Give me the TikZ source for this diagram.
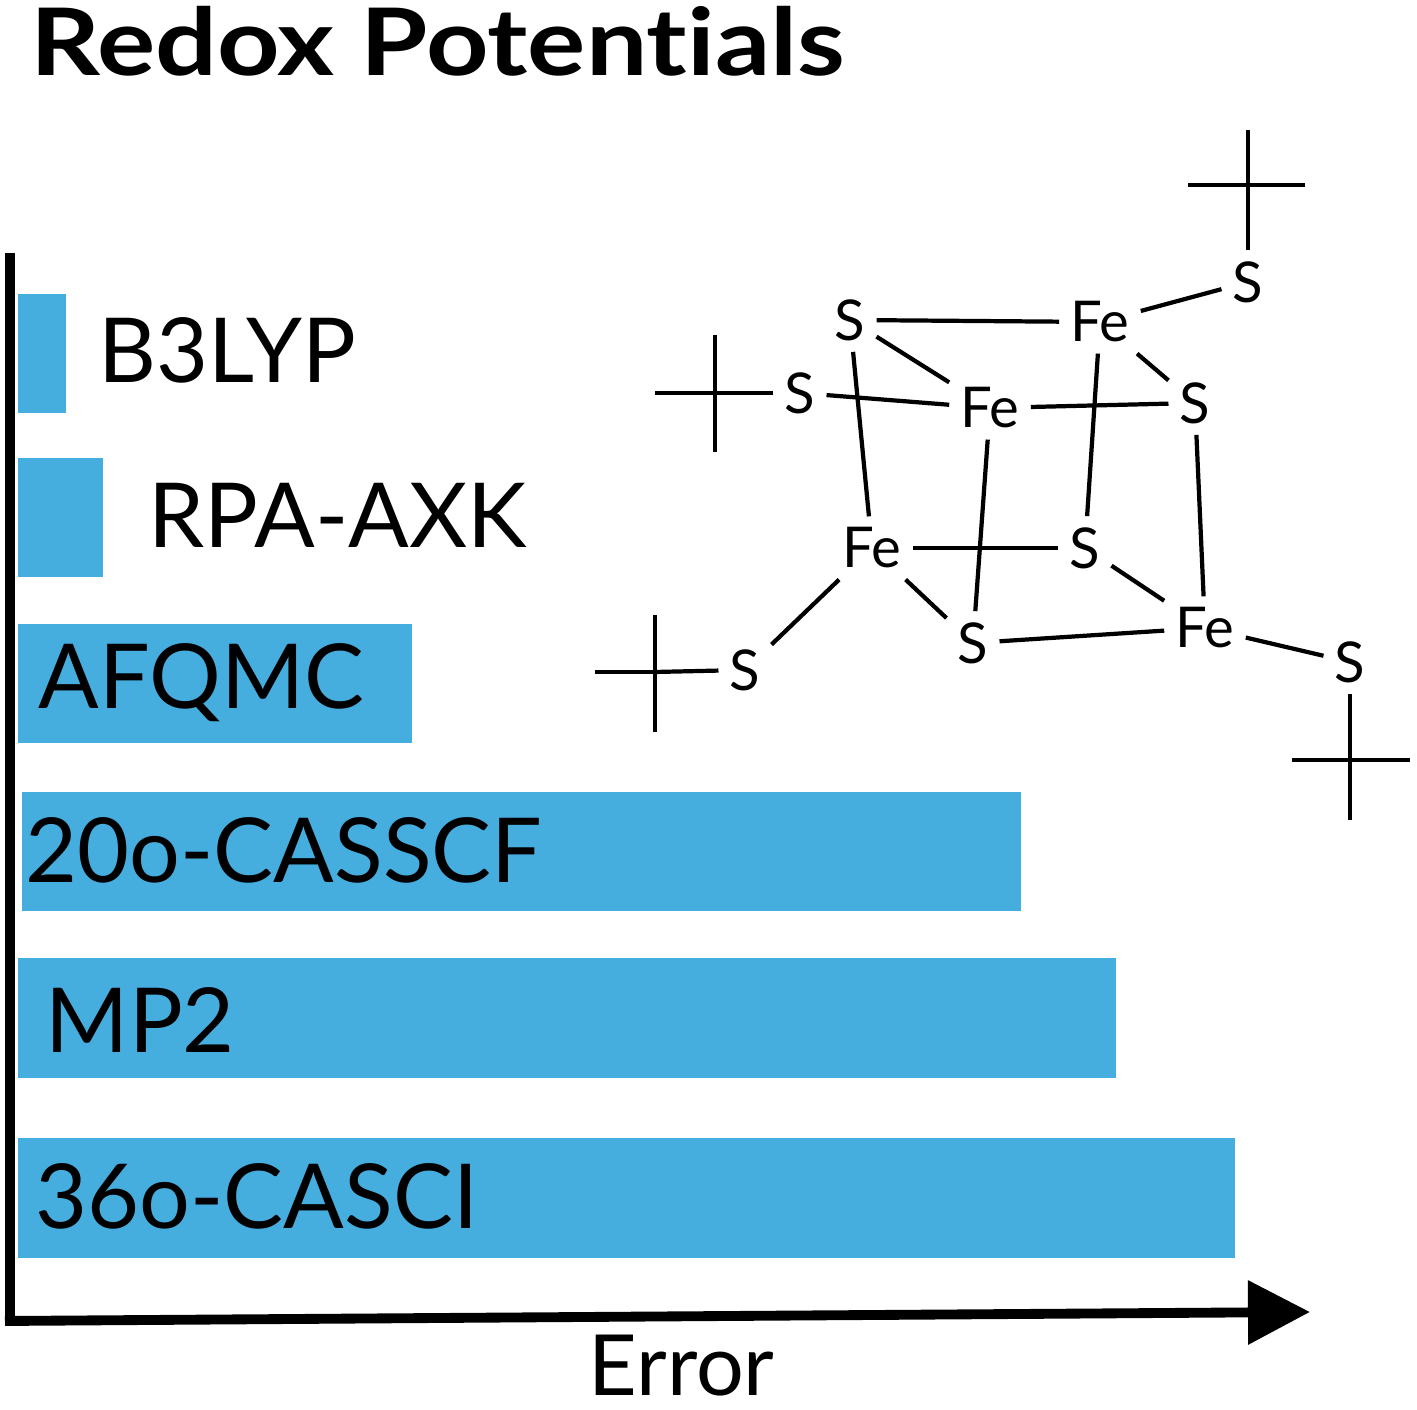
\documentclass[tikz,border=0pt]{standalone}
\usepackage{fontspec}
\setmainfont{Lato}[Ligatures={NoCommon}]
\usetikzlibrary{arrows.meta}
\definecolor{barblue}{HTML}{45AEDF}
\begin{document}
\begin{tikzpicture}[x=0.01cm,y=-0.01cm,
  bar/.style={fill=barblue,draw=none},
  lab/.style={anchor=west,font=\fontsize{25.5}{28}\selectfont,inner sep=0},
  atom/.style={font=\fontsize{16}{18}\selectfont,inner sep=3pt},
  bond/.style={line width=1.2pt}]
\useasboundingbox (0,0) rectangle (1417,1410);
\node[anchor=base west,font=\fontsize{26.5}{28}\bfseries,inner sep=0,xscale=1.17] (title) at (30,76) {Redox Potentials};
% bars
\fill[bar] (18,294) rectangle (66,413);
\fill[bar] (18,458) rectangle (103,577);
\fill[bar] (18,624) rectangle (412,743);
\fill[bar] (22,792) rectangle (1021,911);
\fill[bar] (18,958) rectangle (1116,1078);
\fill[bar] (18,1138) rectangle (1235,1258);
\node[lab] (l1) at (98,350) {B3LYP};
\node[lab] (l2) at (148,515) {RPA-AXK};
\node[lab] (l3) at (38,683) {AFQMC};
\node[lab] (l4) at (25,850) {20o-CASSCF};
\node[lab] (l5) at (45,1020) {MP2};
\node[lab] (l6) at (35,1196) {36o-CASCI};
% axes
\coordinate (top) at (10,253);
\coordinate (tip) at (1310,1312);
\draw[line width=2.8pt] (top) -- (10,1325);
\draw[line width=2.8pt,-{Triangle[length=0.62cm,width=0.62cm]}] (5,1321) -- (tip);
\node[lab,font=\fontsize{24}{28}\selectfont] (err) at (588,1366) {Error};
% atoms
\node[atom] (S1) at (850,320) {S};
\node[atom] (Fe1) at (1100,322) {Fe};
\node[atom] (Stop) at (1248,282) {S};
\node[atom] (Sl) at (800,393) {S};
\node[atom] (Fe2) at (990,408) {Fe};
\node[atom] (Sr) at (1195,403) {S};
\node[atom] (Fe3) at (872,548) {Fe};
\node[atom] (Sm) at (1085,548) {S};
\node[atom] (Sb) at (973,643) {S};
\node[atom] (Fe4) at (1205,628) {Fe};
\node[atom] (Sfr) at (1350,662) {S};
\node[atom] (Slb) at (745,670) {S};
\coordinate (m1) at (1248,185);
\coordinate (m2) at (715,393);
\coordinate (m3) at (655,672);
\coordinate (m4) at (1350,760);
% bonds
\draw[bond] (S1) -- (Fe1);
\draw[bond] (S1) -- (Fe2);
\draw[bond] (S1) -- (Fe3);
\draw[bond] (Fe1) -- (Stop);
\draw[bond] (Fe1) -- (Sr);
\draw[bond] (Fe1) -- (Sm);
\draw[bond] (Sl) -- (Fe2);
\draw[bond] (Fe2) -- (Sr);
\draw[bond] (Fe2) -- (Sb);
\draw[bond] (Sr) -- (Fe4);
\draw[bond] (Fe3) -- (Sm);
\draw[bond] (Fe3) -- (Sb);
\draw[bond] (Fe3) -- (Slb);
\draw[bond] (Sm) -- (Fe4);
\draw[bond] (Sb) -- (Fe4);
\draw[bond] (Fe4) -- (Sfr);
% methyls
\draw[bond] (Stop) -- (m1);
\draw[bond] (1188,185) -- (1305,185) (1248,130) -- (m1);
\draw[bond] (Sl) -- (m2);
\draw[bond] (655,393) -- (m2) (715,335) -- (715,452);
\draw[bond] (Slb) -- (m3);
\draw[bond] (595,672) -- (m3) (655,615) -- (655,732);
\draw[bond] (Sfr) -- (m4);
\draw[bond] (1292,760) -- (1410,760) (m4) -- (1350,820);
\end{tikzpicture}
\end{document}
